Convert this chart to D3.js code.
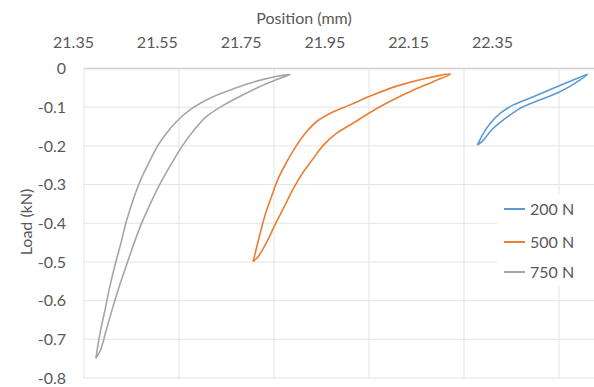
<!DOCTYPE html>
<html>
<head>
<meta charset="utf-8">
<script src="https://cdn.jsdelivr.net/npm/d3@7"></script>
<style>
  body { margin: 0; background: #fff; }
  text { font-family: Lato, "Open Sans", sans-serif; fill: #595959; }
</style>
</head>
<body>
<div class="canvas"></div>
<script>
// series names and tick labels
const seriesNames = ["200 N", "500 N", "750 N"];
const xTicks = [21.35, 21.55, 21.75, 21.95, 22.15, 22.35];
const yTicks = [0, -0.1, -0.2, -0.3, -0.4, -0.5, -0.6, -0.7, -0.8];

// 200 N loop (position mm, load kN)
const pos200 = [22.178, 22.191, 22.208, 22.233, 22.268, 22.310, 22.352, 22.394, 22.410,
                22.380, 22.338, 22.296, 22.254, 22.226, 22.205, 22.191, 22.178];
const load200 = [-0.198, -0.185, -0.159, -0.133, -0.103, -0.081, -0.060, -0.030, -0.015,
                 -0.030, -0.051, -0.073, -0.094, -0.116, -0.142, -0.167, -0.198];

// 500 N loop
const pos500 = [21.706, 21.717, 21.735, 21.752, 21.770, 21.791, 21.812, 21.833, 21.854, 21.882, 21.910, 21.973, 22.029, 22.085, 22.122,
                22.071, 22.015, 21.959, 21.910, 21.875, 21.840, 21.819, 21.798, 21.777, 21.759, 21.745, 21.731, 21.718, 21.706];
const load500 = [-0.499, -0.486, -0.448, -0.404, -0.361, -0.310, -0.267, -0.232, -0.198, -0.167, -0.146, -0.099, -0.064, -0.034, -0.014,
                 -0.025, -0.043, -0.068, -0.094, -0.112, -0.137, -0.163, -0.198, -0.241, -0.284, -0.330, -0.380, -0.440, -0.499];

// 750 N loop
const pos750 = [21.375, 21.385, 21.396, 21.410, 21.425, 21.439, 21.453, 21.468, 21.482, 21.501, 21.518, 21.537, 21.557, 21.581, 21.607, 21.645, 21.685, 21.727, 21.763, 21.784,
                21.742, 21.699, 21.657, 21.615, 21.573, 21.545, 21.522, 21.505, 21.488, 21.472, 21.459, 21.448, 21.438, 21.428, 21.417, 21.405, 21.395, 21.386, 21.380, 21.375];
const load750 = [-0.749, -0.727, -0.680, -0.620, -0.560, -0.510, -0.460, -0.410, -0.370, -0.320, -0.280, -0.240, -0.200, -0.160, -0.125, -0.094, -0.068, -0.043, -0.025, -0.015,
                 -0.024, -0.038, -0.056, -0.077, -0.107, -0.137, -0.170, -0.200, -0.240, -0.280, -0.320, -0.360, -0.400, -0.450, -0.500, -0.560, -0.620, -0.670, -0.710, -0.749];

const colors = ["#5b9bd5", "#ed7d31", "#a5a5a5"];

const width = 594, height = 387;
const svg = d3.select(".canvas").append("svg")
    .attr("width", width)
    .attr("height", height);

//plot area
const plot = {left: 84, top: 68.5, right: 594, bottom: 378};

//scales
const x = d3.scaleLinear().domain([21.35, 22.35]).range([84, 559]);
const xLabel = d3.scaleLinear().domain([21.35, 22.35]).range([73, 492]); // top labels sit offset from grid
const y = d3.scaleLinear().domain([-0.8, 0]).range([plot.bottom, plot.top]);

//gridlines
svg.append("g")
    .selectAll("line.h")
    .data(yTicks)
    .enter().append("line")
    .attr("x1", plot.left).attr("x2", plot.right)
    .attr("y1", d => y(d)).attr("y2", d => y(d))
    .attr("stroke", d => d === 0 ? "#cfcfcf" : "#e3e3e3")
    .attr("stroke-width", d => d === 0 ? 1.5 : 1);

svg.append("g")
    .selectAll("line.v")
    .data(xTicks)
    .enter().append("line")
    .attr("x1", d => x(d)).attr("x2", d => x(d))
    .attr("y1", plot.top).attr("y2", plot.bottom)
    .attr("stroke", "#e3e3e3");

//top axis
const xAxis = d3.axisTop(xLabel).tickValues(xTicks).tickSize(0).tickFormat(d3.format(".2f"));
const xg = svg.append("g")
    .attr("transform", "translate(0, 51)")
    .call(xAxis);
xg.select(".domain").remove();
xg.selectAll("text").style("font-size", "16px").attr("dy", 0);

//left axis
const yAxis = d3.axisLeft(y).tickValues(yTicks).tickSize(0)
    .tickFormat(d => d === 0 ? "0" : d3.format(".1f")(d).replace("\u2212", "-"));
const yg = svg.append("g")
    .attr("transform", "translate(66, 0)")
    .call(yAxis);
yg.select(".domain").remove();
yg.selectAll("text").style("font-size", "16px").attr("x", 0);

//axis titles
svg.append("text")
    .attr("x", 304).attr("y", 24)
    .attr("text-anchor", "middle")
    .style("font-size", "16px")
    .text("Position (mm)");

svg.append("text")
    .attr("transform", "translate(32, 222) rotate(-90)")
    .attr("text-anchor", "middle")
    .style("font-size", "16px")
    .text("Load (kN)");

//loops
const data = [
  d3.zip(pos200, load200),
  d3.zip(pos500, load500),
  d3.zip(pos750, load750)
];

const line = d3.line()
    .x(d => x(d[0]))
    .y(d => y(d[1]))
    .curve(d3.curveCatmullRom.alpha(0.5));

svg.append("g")
    .selectAll("path")
    .data(data)
    .enter().append("path")
    .attr("d", line)
    .attr("fill", "none")
    .attr("stroke", (d, i) => colors[i])
    .attr("stroke-width", 1.6)
    .attr("stroke-linejoin", "round");

//legend
const legend = svg.append("g").attr("transform", "translate(497, 194)");
legend.append("rect")
    .attr("width", 97).attr("height", 92)
    .attr("fill", "#fff");

const items = legend.selectAll("g.item")
    .data(seriesNames)
    .enter().append("g")
    .attr("transform", (d, i) => `translate(0, ${[15, 48, 78][i]})`);
items.append("line")
    .attr("x1", 7).attr("x2", 28)
    .attr("stroke", (d, i) => colors[i])
    .attr("stroke-width", 2);
items.append("text")
    .attr("x", 33).attr("y", 6)
    .style("font-size", "16px")
    .text(d => d);
</script>
</body>
</html>
